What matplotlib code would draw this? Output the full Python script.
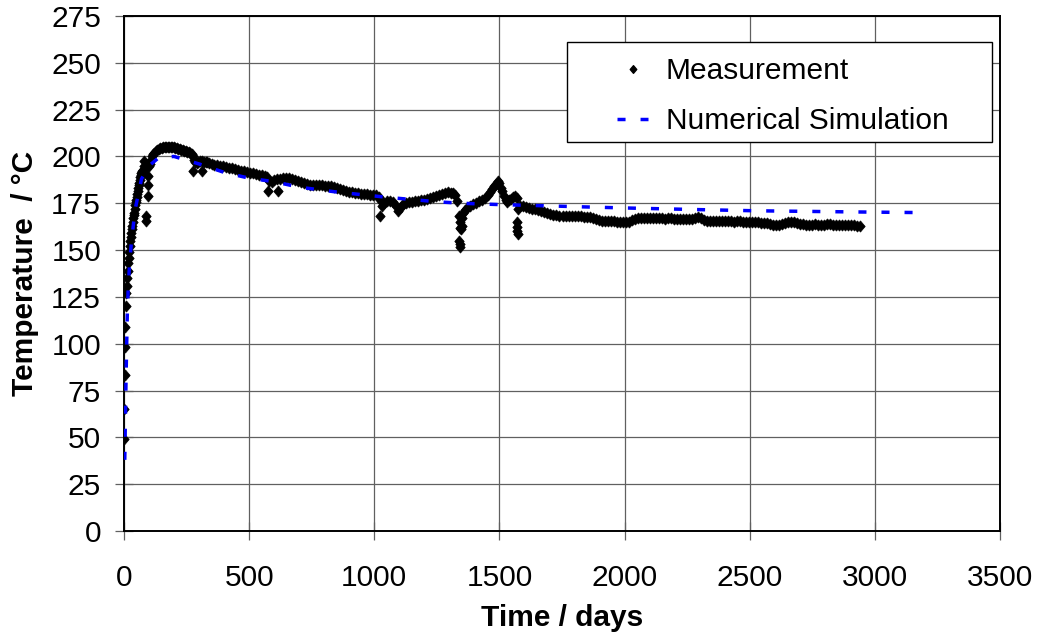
import matplotlib
matplotlib.use("Agg")
import matplotlib.pyplot as plt
from matplotlib.path import Path
from matplotlib.patches import Rectangle
from matplotlib.lines import Line2D

plt.rcParams['font.family'] = ['Liberation Sans', 'DejaVu Sans']
plt.rcParams['lines.scale_dashes'] = False

# ---------------- data ----------------
meas_days = [
    0, 1, 2, 3, 4, 6, 8, 10, 12, 14, 16, 18, 20, 22, 24, 26, 28, 30, 32, 34, 36, 38, 40,
    42, 44, 46, 48, 50, 52, 54, 56, 58, 60, 62, 64, 66, 68, 70, 72, 74, 76, 78, 80,
    88, 88, 94, 96, 96, 92,
    100, 104, 108, 112, 116, 120, 126, 132, 138, 144, 150, 156, 162, 168, 174, 180, 186,
    192, 198, 204, 210, 216, 222, 228, 234, 240, 246, 252, 258, 264, 270, 276, 280, 284,
    290, 296, 304, 310, 318, 326, 332, 340, 350, 360, 372, 384, 396, 408, 420, 432, 444,
    456, 468, 480, 492, 504, 516, 528, 540, 552, 564, 572, 580, 590, 600, 612, 624, 636,
    648, 660, 672, 684, 696, 708, 720, 732, 744, 756, 768, 780, 792, 804, 816, 828, 840,
    852, 864, 876, 888, 900, 912, 924, 936, 948, 960, 972, 984, 996, 1008, 1020,
    276, 312, 576, 616,
    1026, 1032, 1040, 1052, 1064, 1076, 1086, 1096, 1106, 1116, 1128, 1140, 1152, 1164,
    1176, 1188, 1200, 1212, 1224, 1236, 1248, 1260, 1272, 1284, 1296, 1306, 1316, 1324,
    1332, 1024,
    1340, 1342, 1344, 1346, 1340, 1342, 1344, 1350, 1352, 1356, 1364, 1372, 1384, 1396,
    1408, 1420, 1432, 1444, 1456, 1464, 1472, 1480, 1488, 1496, 1500, 1506, 1512, 1520,
    1526, 1532, 1540, 1548, 1556, 1564, 1572, 1576, 1584, 1596, 1608, 1620, 1632, 1644,
    1656, 1668, 1680, 1692, 1704, 1572, 1572, 1570, 1574,
    1716, 1728, 1740, 1752, 1764, 1776, 1788, 1800, 1812, 1824, 1836, 1848, 1860, 1872,
    1884, 1896, 1908, 1920, 1932, 1944, 1956, 1968, 1980, 1992, 2004, 2016, 2028, 2040,
    2052, 2064, 2076, 2088, 2100, 2112, 2124, 2136, 2148, 2160, 2172, 2184, 2196, 2208,
    2220, 2232, 2244, 2256, 2268, 2280, 2292, 2304, 2316, 2328, 2340, 2352, 2364, 2376,
    2388, 2400, 2412, 2424, 2436, 2448, 2460, 2472, 2484, 2496, 2508, 2520, 2532, 2544,
    2556, 2568, 2580, 2592, 2604, 2616, 2628, 2640, 2652, 2664, 2676, 2688, 2700, 2712,
    2724, 2736, 2748, 2760, 2772, 2784, 2796, 2808, 2820, 2832, 2844, 2856, 2868, 2880,
    2892, 2904, 2916, 2928, 2940,
]
meas_temp = [
    49, 65, 83.5, 98, 109, 120, 127, 131, 135, 139, 143, 146, 149, 152, 155, 157, 159, 161,
    163, 165, 167, 169, 170, 172, 174, 175.5, 177, 178.5, 180, 181.5, 183, 184.5, 186,
    187.5, 189, 190, 191, 191.5, 192, 192.5, 193, 195, 197.5,
    165.6, 168.3, 179, 185, 189.7, 195,
    195, 196, 198, 200, 201.3, 202, 203, 203.6, 204, 204.3, 204.6, 204.8, 205, 205, 205.2,
    205.2, 205.1, 205, 204.8, 204.6, 204.4, 204.2, 204, 203.6, 203.2, 203, 202.8, 202.5,
    202.2, 201.8, 201.3, 200, 198, 196.8, 196.5, 197, 197.7, 197.5, 197, 196.8, 196.8,
    196.3, 196, 195.7, 195.3, 195, 194.8, 194.4, 194, 193.6, 193.2, 192.8, 192.4, 192,
    191.7, 191.4, 191, 190.6, 190.2, 190, 189.6, 189.2, 187, 186.5, 187.2, 187.8, 188.2,
    188.4, 188.5, 188.3, 188, 187.5, 187, 186.5, 186, 185.5, 185, 184.8, 184.7, 184.6,
    184.5, 184.4, 184.3, 184, 183.5, 183, 182.5, 182, 181.6, 181.2, 180.8, 180.5, 180.3,
    180.1, 180, 179.8, 179.6, 179.4, 179.2, 178.5,
    192.3, 192.3, 181.6, 181.6,
    176, 173.6, 175, 176.3, 176, 175.6, 173.5, 171, 173, 174.5, 175, 175.5, 175.8, 176,
    176.3, 176.6, 177, 177.5, 178, 178.4, 178.8, 179.2, 179.8, 180.4, 180.8, 180.7, 180.3,
    179.5, 176.3, 168.3,
    168, 165, 162, 161, 154.7, 153, 151.5, 163, 167, 170, 171.5, 172.5, 173.5, 174.5,
    175.3, 176, 177, 178, 179.5, 181, 182.5, 184, 185.5, 187, 186, 183, 181.6, 179,
    177, 175.6, 176.5, 177.5, 178.2, 179, 178, 172, 173.5, 173.6, 173, 172.5, 172, 171.8,
    171.5, 171, 170.5, 170, 169.5, 165, 162.5, 160, 158.5,
    169, 168.5, 168.3, 168, 168.2, 168.4, 168.3, 168.2, 168, 168, 167.8, 167.6, 167.5,
    167.2, 166.8, 166.3, 165.8, 165.6, 165.5, 165.4, 165.3, 165.2, 165, 164.8, 164.8,
    165, 166, 166.8, 167.2, 167.3, 167.2, 167, 167.2, 167.4, 167.3, 167.1, 167, 166.8,
    166.9, 167, 166.8, 166.6, 166.7, 166.8, 166.6, 166.5, 166.8, 167.3, 167.5, 167,
    166.3, 165.8, 165.6, 165.7, 165.8, 165.6, 165.4, 165.5, 165.6, 165.4, 165.2, 165.3,
    165.4, 165.2, 165, 164.9, 165, 165.1, 164.8, 164.6, 164.7, 164.5, 164, 163.3, 163.2,
    163.5, 164, 164.6, 165, 165.2, 164.8, 164.3, 164, 163.8, 163.6, 163.5, 163.6, 163.7,
    163.5, 163.4, 163.6, 163.8, 163.7, 163.5, 163.4, 163.5, 163.6, 163.4, 163.2, 163.3,
    163.2, 163, 162.8,
]

sim_days = [3, 5, 8, 10, 13, 17, 22, 30, 45, 70, 100, 140, 200, 300, 400, 500, 600, 700,
            850, 1050, 1250, 1350, 1500, 1700, 1800, 2000, 2300, 2520, 2900, 3200]
sim_temp = [38, 55, 80, 95, 115, 130, 142, 155, 172, 188, 195, 199.5, 200, 196, 191.5,
            188.4, 186.5, 183.6, 181, 178.2, 175.8, 175, 174.3, 173.6, 173.2, 172.5,
            171.6, 171, 170.4, 170]

x_ticks = [0, 500, 1000, 1500, 2000, 2500, 3000, 3500]
y_ticks = [0, 25, 50, 75, 100, 125, 150, 175, 200, 225, 250, 275]
labels = ["Measurement", "Numerical Simulation"]

# ---------------- figure ----------------
FS = 21.5
W, H = 1040, 643
fig = plt.figure(figsize=(W / 100, H / 100), dpi=100)
L, R, T, B = 124, 1000, 16, 531
ax = fig.add_axes([L / W, 1 - B / H, (R - L) / W, (B - T) / H])

diamond = Path([(0, 1), (0.85, 0), (0, -1), (-0.85, 0), (0, 1)],
               [Path.MOVETO, Path.LINETO, Path.LINETO, Path.LINETO, Path.CLOSEPOLY])

ax.plot(meas_days, meas_temp, linestyle='none', marker=diamond, ms=8,
        color='black', mec='black', mew=0.5, zorder=3)
ax.plot(sim_days, sim_temp, color='#0000FF', lw=2.5,
        linestyle=(0, (5.8, 10.8)), zorder=4)

ax.set_xlim(0, 3500)
ax.set_ylim(0, 275)
ax.set_xticks(x_ticks)
ax.set_yticks(y_ticks)
ax.grid(True, color='#606060', lw=0.9)
ax.set_axisbelow(True)
for s in ax.spines.values():
    s.set_color('black')
    s.set_linewidth(1.4)

ax.tick_params(axis='both', labelsize=FS, direction='inout', length=13,
               width=0.9, color='#606060')
ax.tick_params(axis='x', pad=17)
ax.tick_params(axis='y', pad=10)

ax.set_xlabel("Time / days", fontsize=FS, fontweight='bold', va='center')
ax.xaxis.set_label_coords(0.5, (B - 618) / (B - T))
ax.set_ylabel("Temperature  / °C", fontsize=FS, fontweight='bold',
              va='center', ha='center')
ax.yaxis.set_label_coords((25 - L) / (R - L), 0.5)

# legend frame
lx0, lx1, ly0, ly1 = 567, 992, 42, 142
ax.add_patch(Rectangle(((lx0 - L) / (R - L), (B - ly1) / (B - T)),
                       (lx1 - lx0) / (R - L), (ly1 - ly0) / (B - T),
                       transform=ax.transAxes, facecolor='white',
                       edgecolor='black', lw=1.0, zorder=5))
handles = [
    Line2D([], [], linestyle='none', marker=diamond, ms=5.5, color='black'),
    Line2D([], [], color='#0000FF', lw=2.5, linestyle=(0, (5.8, 10.8))),
]
leg = ax.legend(handles, labels, loc='upper left', frameon=False, fontsize=FS,
                bbox_to_anchor=((617 - L) / (R - L), (B - 57) / (B - T)),
                borderpad=0, borderaxespad=0, handlelength=31 / (FS * 100 / 72),
                handletextpad=18 / (FS * 100 / 72), labelspacing=0.74, numpoints=1)
leg.set_zorder(6)

fig.savefig("out.png", dpi=100)
